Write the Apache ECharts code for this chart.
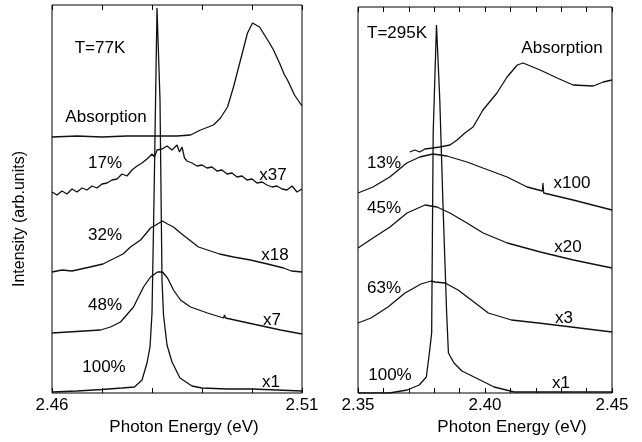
<!DOCTYPE html>
<html>
<head>
<meta charset="utf-8">
<script src="https://cdn.jsdelivr.net/npm/echarts@6/dist/echarts.min.js"></script>
<style>html,body{margin:0;padding:0;background:#fff}#c{width:642px;height:442px}</style>
</head>
<body>
<div id="c"></div>
<script>
// ---------- T = 77 K panel ----------
const ticks77 = ['2.46', '2.51'];
const abs77E = [2.460,2.465,2.470,2.475,2.480,2.485,2.4877,2.4897,2.4923,2.4937,2.4951,2.4963,2.4977,2.4991,2.5001,2.5015,2.5025,2.5035,2.5043,2.5055,2.5065,2.5071,2.5085,2.510];
const abs77I = [256,257,256,257,257,257,258,263,268,275,286,306,333,360,370,366,358,350,343,330,318,313,298,287];
const p17E = [2.460,2.461,2.462,2.463,2.464,2.465,2.466,2.467,2.468,2.469,2.470,2.471,2.472,2.473,2.474,2.475,2.476,2.477,2.478,2.479,2.480,2.4805,2.481,2.482,2.483,2.484,2.485,2.4855,2.486,2.4865,2.487,2.488,2.489,2.490,2.491,2.492,2.493,2.494,2.495,2.496,2.497,2.498,2.499,2.500,2.501,2.502,2.503,2.504,2.505,2.506,2.507,2.508,2.509,2.510];
const p17I = [201,198,202,199,204,201,205,203,207,205,209,210,213,214,219,217,223,227,230,234,239,236,243,244,247,243,248,241,246,235,232,230,227,228,225,226,222,223,219,220,216,217,213,214,210,211,208,206,207,204,203,207,201,204];
const p32E = [2.460,2.462,2.464,2.4676,2.4702,2.4718,2.4742,2.4757,2.4777,2.4789,2.4797,2.4811,2.4821,2.4831,2.4843,2.4857,2.4875,2.4893,2.4911,2.4935,2.4963,2.4997,2.5031,2.5063,2.5079,2.510];
const p32I = [121,123,122,126,129,133,139,146,153,160,165,169,172,169,166,160,153,146,143,139,136,133,129,125,122,121];
const p48E = [2.460,2.4697,2.4717,2.4737,2.4763,2.4783,2.4797,2.4811,2.4821,2.4831,2.4843,2.4857,2.4877,2.4911,2.4943,2.4945,2.4947,2.5011,2.5057,2.510];
const p48I = [60,63,66,71,86,106,116,121,121,115,103,93,86,80,75,78,75,68,63,59];
const p100E = [2.460,2.465,2.470,2.474,2.4765,2.478,2.479,2.4796,2.4800,2.4804,2.4810,2.4816,2.4820,2.4823,2.4830,2.484,2.4856,2.488,2.490,2.495,2.500,2.505,2.510];
const p100I = [1,2,3.5,5,6,13,30,46,80,193,385,293,113,78,48,31,15,7,5,4,4,3,2];

// ---------- T = 295 K panel ----------
const ticks295 = ['2.35', '2.40', '2.45'];
const abs295E = [2.3704,2.3724,2.3743,2.3763,2.3795,2.3822,2.3862,2.3890,2.3921,2.3953,2.3992,2.4047,2.4087,2.4127,2.4150,2.4217,2.4284,2.4347,2.4426,2.4466,2.4500];
const abs295I = [241,243,241,244,245,246,248,253,260,266,283,300,316,328,330,323,315,308,307,311,313];
const p13E = [2.350,2.3559,2.3625,2.3692,2.3743,2.3795,2.3850,2.3929,2.3992,2.4087,2.4166,2.4226,2.4228,2.4231,2.4347,2.4500];
const p13I = [200,206,216,230,236,239,237,231,225,216,206,202,210,200,193,183];
const p45E = [2.350,2.3559,2.3626,2.3693,2.3764,2.3811,2.3862,2.3929,2.3993,2.4088,2.4218,2.4348,2.4500];
const p45I = [145,155,166,180,188,186,180,170,160,150,141,133,125];
const p63E = [2.350,2.3551,2.3618,2.3685,2.3748,2.3788,2.3803,2.3843,2.3894,2.3946,2.4013,2.4104,2.4210,2.4340,2.4500];
const p63I = [70,75,86,100,109,112,111,110,103,93,80,73,70,66,61];
const q100E = [2.350,2.3623,2.3694,2.3741,2.3769,2.3781,2.3790,2.3796,2.3809,2.3822,2.3834,2.3849,2.3856,2.3878,2.3909,2.3957,2.4036,2.4115,2.430,2.450];
const q100I = [0,0,3,8,16,40,60,260,368,293,193,80,40,30,22,16,6,1,1,1];

const zip = (xs, ys) => xs.map((x, i) => [x, ys[i]]);
const FONT = 'Liberation Sans';
const INK = '#000';

function line(E, I, gi) {
  return {
    type: 'line', xAxisIndex: gi * 2, yAxisIndex: gi, data: zip(E, I),
    showSymbol: false, symbol: 'none', smooth: false, silent: true,
    lineStyle: { color: '#111', width: 1.3 }
  };
}
function xAx(gi, min, max, ticks, pos, pad) {
  return {
    type: 'value', gridIndex: gi, position: pos, min: min, max: max, interval: 0.01,
    axisLine: { show: false },
    axisTick: { show: true, inside: true, length: 5, lineStyle: { color: INK, width: 1 } },
    splitLine: { show: false },
    axisLabel: {
      show: pos === 'bottom', color: INK, fontFamily: FONT, fontSize: 17, margin: 4,
      formatter: v => { const s = v.toFixed(2); return ticks.indexOf(s) >= 0 ? s : ''; }
    },
    name: pos === 'bottom' ? 'Photon Energy (eV)' : '',
    nameLocation: 'middle', nameGap: 26,
    nameTextStyle: { color: INK, fontFamily: FONT, fontSize: 17, padding: [0, 0, 0, pad] }
  };
}
function txt(x, y, s) {
  return { type: 'text', x: x, y: y, style: { text: s, fill: INK, font: '17px "' + FONT + '"', textAlign: 'center', textVerticalAlign: 'middle' } };
}

const chart = echarts.init(document.getElementById('c'), null, { renderer: 'canvas' });
chart.setOption({
  animation: false,
  backgroundColor: '#fff',
  grid: [
    { left: 52, top: 5, width: 250, height: 388, show: true, borderColor: INK, borderWidth: 1, backgroundColor: 'transparent' },
    { left: 358, top: 7, width: 254, height: 386, show: true, borderColor: INK, borderWidth: 1, backgroundColor: 'transparent' }
  ],
  xAxis: [
    xAx(0, 2.46, 2.51, ticks77, 'bottom', 14),
    xAx(0, 2.46, 2.51, ticks77, 'top', 0),
    xAx(1, 2.35, 2.45, ticks295, 'bottom', 54),
    xAx(1, 2.35, 2.45, ticks295, 'top', 0)
  ],
  yAxis: [
    { type: 'value', gridIndex: 0, min: 0, max: 388, axisLine: { show: false }, axisTick: { show: false }, axisLabel: { show: false }, splitLine: { show: false },
      name: 'Intensity (arb.units)', nameLocation: 'middle', nameGap: 24, nameRotate: 90,
      nameTextStyle: { color: INK, fontFamily: FONT, fontSize: 16, padding: [0, 40, 0, 0] } },
    { type: 'value', gridIndex: 1, min: 0, max: 386, axisLine: { show: false }, axisTick: { show: false }, axisLabel: { show: false }, splitLine: { show: false } }
  ],
  series: [
    line(abs77E, abs77I, 0), line(p17E, p17I, 0), line(p32E, p32I, 0), line(p48E, p48I, 0), line(p100E, p100I, 0),
    line(abs295E, abs295I, 1), line(p13E, p13I, 1), line(p45E, p45I, 1), line(p63E, p63I, 1), line(q100E, q100I, 1)
  ],
  graphic: [
    txt(100, 48, 'T=77K'), txt(106, 117, 'Absorption'),
    txt(105, 163, '17%'), txt(273, 175, 'x37'),
    txt(105, 235, '32%'), txt(275, 255, 'x18'),
    txt(105, 305, '48%'), txt(272, 320, 'x7'),
    txt(104, 367, '100%'), txt(271, 382, 'x1'),
    txt(397, 33, 'T=295K'), txt(562, 48, 'Absorption'),
    txt(384, 163, '13%'), txt(572, 183, 'x100'),
    txt(384, 208, '45%'), txt(568, 247, 'x20'),
    txt(384, 288, '63%'), txt(564, 318, 'x3'),
    txt(390, 375, '100%'), txt(561, 383, 'x1')
  ]
});
</script>
</body>
</html>
